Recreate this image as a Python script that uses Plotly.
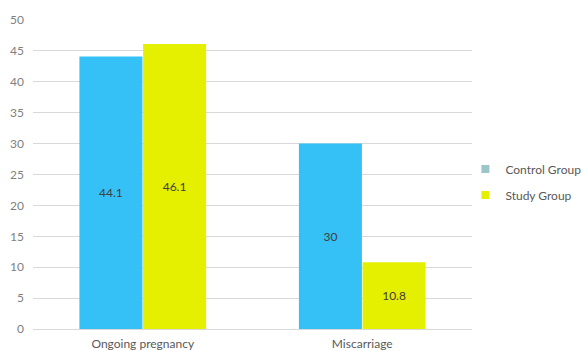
import plotly.graph_objects as go

categories = ["Ongoing pregnancy", "Miscarriage"]
control_values = [44.1, 30]
study_values = [46.1, 10.8]
series_names = ["Control Group", "Study Group"]
y_ticks = [0, 5, 10, 15, 20, 25, 30, 35, 40, 45, 50]

BLUE = "#35C1F5"
YELLOW = "#E5EF00"
LEGEND_CONTROL = "#9CC5CA"
FONT = "Lato"

fig = go.Figure()
fig.add_trace(go.Bar(x=categories, y=control_values, name=series_names[0],
                     marker=dict(color=BLUE, line=dict(width=0)),
                     text=[f"{v:g}" for v in control_values], textposition="inside",
                     insidetextanchor="middle",
                     textfont=dict(color="#404040", size=12, family=FONT),
                     showlegend=False))
fig.add_trace(go.Bar(x=categories, y=study_values, name=series_names[1],
                     marker=dict(color=YELLOW, line=dict(width=0)),
                     text=[f"{v:g}" for v in study_values], textposition="inside",
                     insidetextanchor="middle",
                     textfont=dict(color="#404040", size=12, family=FONT),
                     showlegend=False))
# legend-only entries
fig.add_trace(go.Scatter(x=[None], y=[None], mode="markers", name=series_names[0],
                         marker=dict(symbol="square", size=8, color=LEGEND_CONTROL),
                         legendgroup="a"))
fig.add_trace(go.Scatter(x=[None], y=[None], mode="markers", name=series_names[1],
                         marker=dict(symbol="square", size=8, color=YELLOW),
                         legendgroup="b"))

fig.update_layout(
    width=586, height=351,
    margin=dict(l=33, r=114, t=20, b=22, autoexpand=False),
    paper_bgcolor="white", plot_bgcolor="white",
    barmode="group", bargap=0.42, bargroupgap=0.01,
    font=dict(family=FONT, color="#595959", size=12),
    uniformtext=dict(mode="show", minsize=8),
    legend=dict(x=0.985, xanchor="left", y=0.565, yanchor="top",
                font=dict(size=12, color="#595959", family=FONT),
                tracegroupgap=7, traceorder="grouped",
                itemwidth=30, bgcolor="rgba(0,0,0,0)"),
    xaxis=dict(showgrid=False, showline=True, linecolor="#D9D9D9", linewidth=1,
               ticks="", tickfont=dict(size=12, color="#595959"), automargin=False,
               ticklabelstandoff=4),
    yaxis=dict(range=[0, 50], tickvals=y_ticks, showgrid=True, gridcolor="#D9D9D9",
               gridwidth=1, zeroline=False, showline=False, ticks="", automargin=False,
               tickfont=dict(size=12, color="#7F7F7F"), ticklabelstandoff=8),
)

fig.write_html("out.html")
